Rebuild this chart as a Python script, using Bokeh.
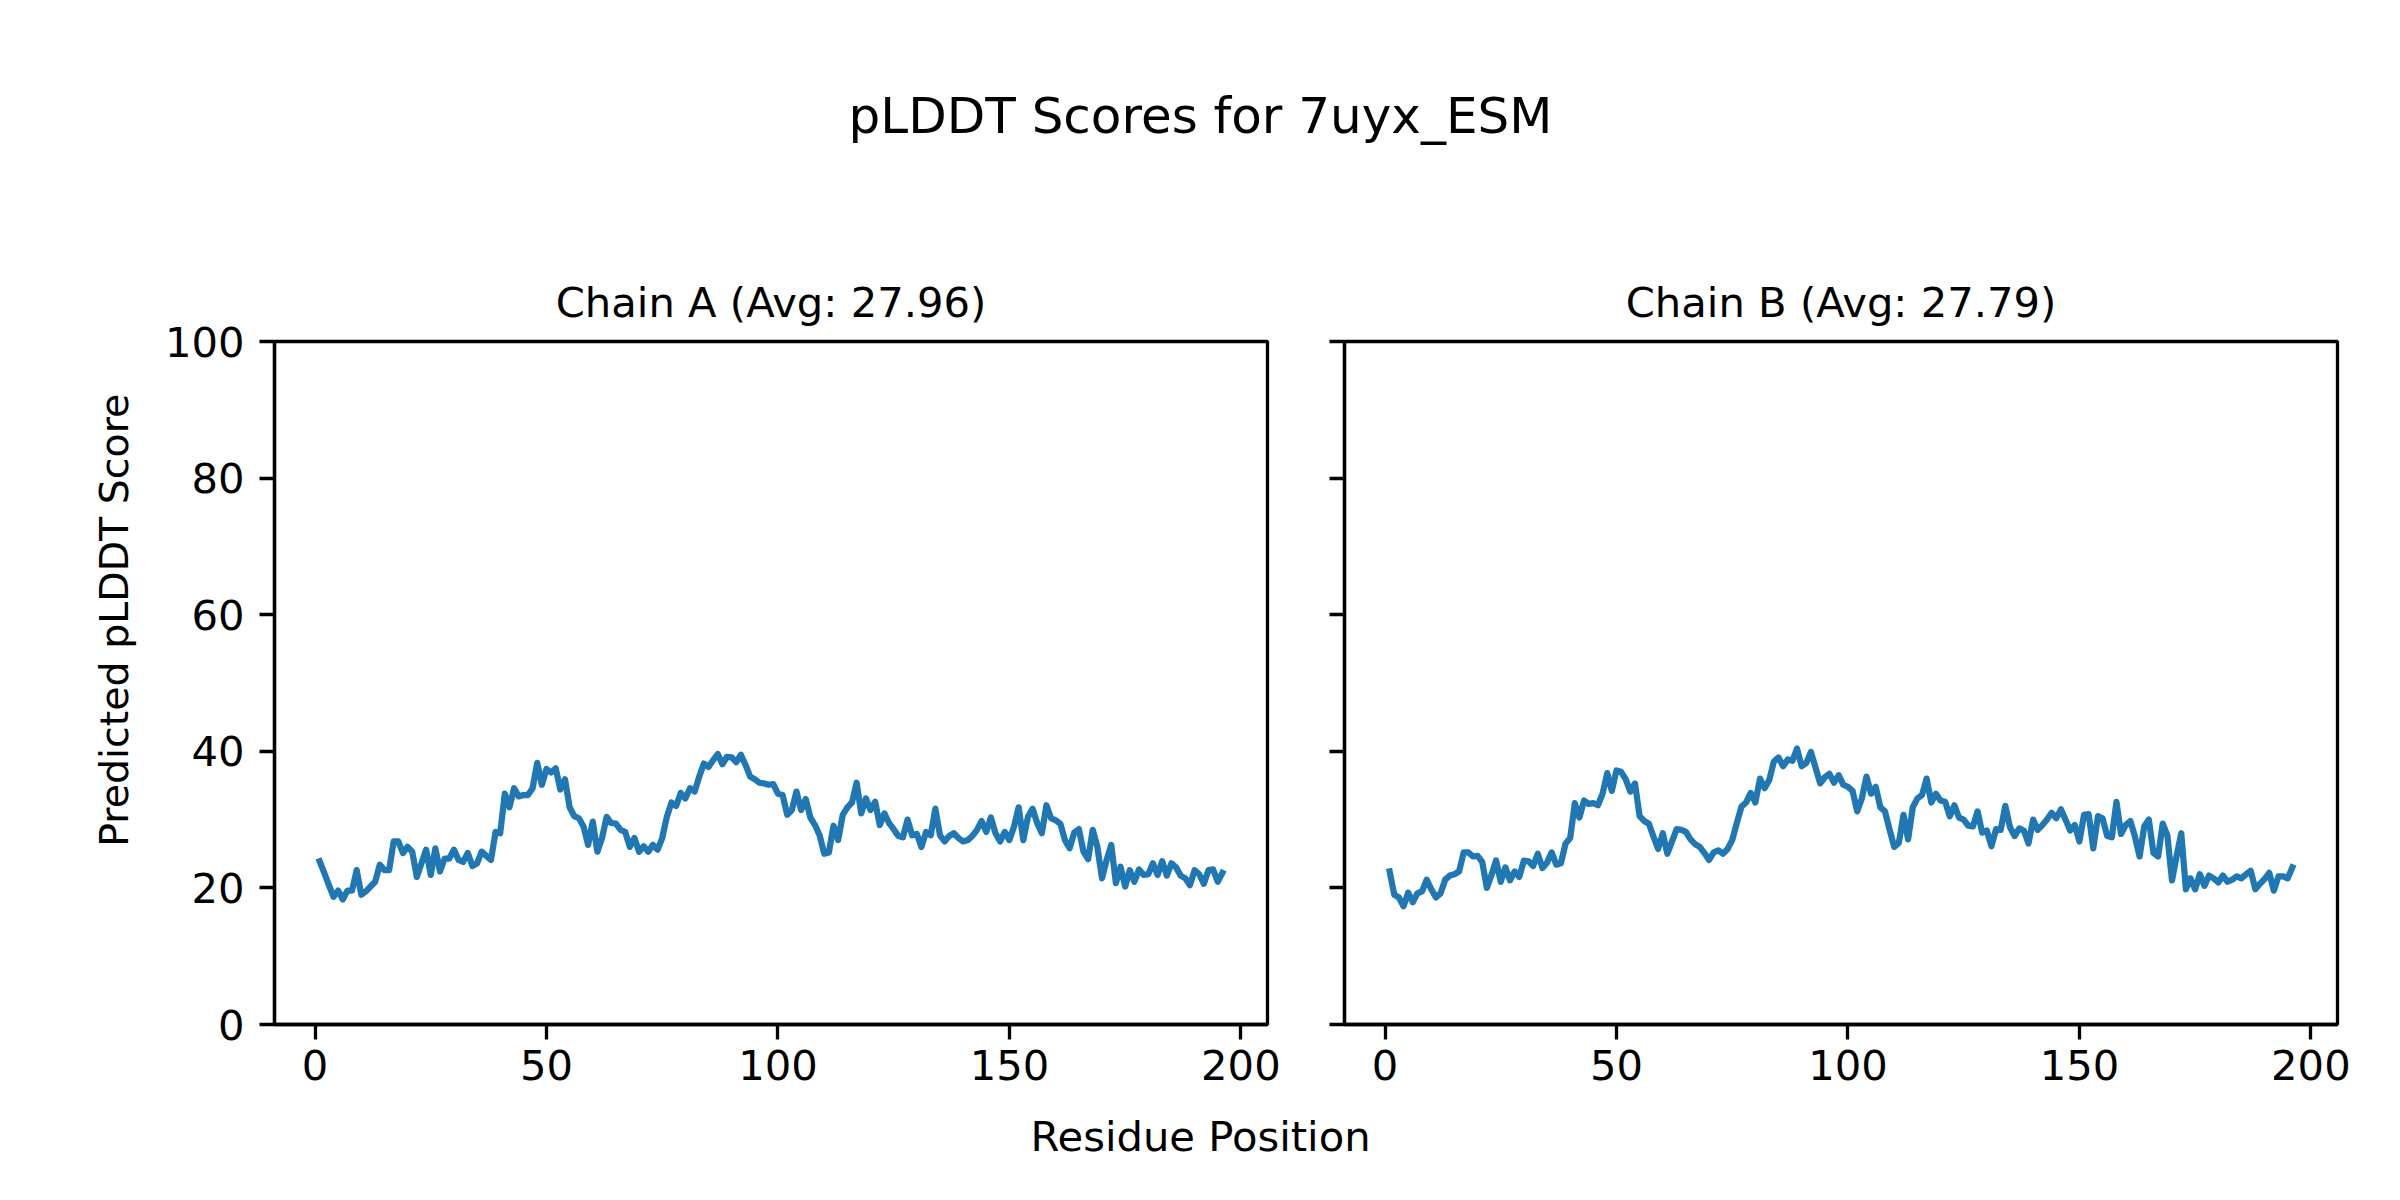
import math
from bokeh.plotting import figure
from bokeh.layouts import column, row
from bokeh.models import Range1d, FixedTicker, Label, Title, ColumnDataSource
from bokeh.embed import file_html
from bokeh.resources import INLINE

# ---------------- data ----------------
suptitle_text = "pLDDT Scores for 7uyx_ESM"
panel_titles = ["Chain A (Avg: 27.96)", "Chain B (Avg: 27.79)"]
x_label_text = "Residue Position"
y_label_text = "Predicted pLDDT Score"
x_ticks = [0, 50, 100, 150, 200]
y_ticks = [0, 20, 40, 60, 80, 100]

chain_a_scores = [
    23.9, 22.2, 20.4, 18.7, 19.6, 18.3, 19.6, 19.6, 22.6, 19.0,
    19.5, 20.2, 20.9, 23.4, 22.6, 22.6, 26.8, 26.8, 25.1, 26.0,
    25.3, 21.6, 23.6, 25.6, 21.9, 25.8, 22.4, 24.3, 24.3, 25.6,
    24.1, 23.8, 25.1, 23.2, 23.6, 25.3, 24.7, 24.1, 28.2, 28.0,
    33.8, 31.8, 34.6, 33.4, 33.6, 33.6, 34.6, 38.3, 35.1, 37.4,
    36.9, 37.5, 34.4, 35.9, 31.8, 30.5, 30.2, 29.0, 26.3, 29.7,
    25.3, 27.3, 30.4, 29.5, 29.4, 28.5, 28.2, 26.0, 27.3, 25.3,
    26.1, 25.3, 26.3, 25.6, 27.3, 30.4, 32.5, 32.0, 33.9, 33.1,
    34.6, 34.1, 36.3, 38.2, 37.7, 38.7, 39.6, 38.1, 39.2, 39.1,
    38.4, 39.5, 38.0, 36.3, 35.9, 35.4, 35.3, 35.1, 35.2, 33.8,
    33.6, 30.7, 31.4, 34.1, 31.4, 33.0, 30.3, 29.2, 27.7, 25.0,
    25.2, 29.1, 27.0, 30.7, 31.8, 32.5, 35.4, 30.9, 33.1, 31.4,
    32.6, 29.2, 30.9, 29.5, 28.6, 27.6, 27.4, 30.0, 27.7, 27.9,
    26.0, 28.2, 27.7, 31.6, 27.7, 26.8, 27.6, 28.0, 27.3, 26.8,
    27.0, 27.6, 28.5, 29.8, 28.2, 30.3, 28.0, 26.8, 28.2, 27.0,
    29.0, 31.8, 27.0, 30.4, 31.6, 29.5, 28.0, 32.1, 30.2, 29.9,
    29.4, 27.0, 25.8, 28.1, 28.6, 25.3, 24.2, 28.5, 26.0, 21.4,
    24.1, 26.3, 20.7, 23.1, 20.2, 22.6, 20.9, 22.7, 21.9, 22.0,
    23.6, 21.9, 23.9, 21.8, 23.6, 23.0, 21.8, 21.4, 20.4, 22.6,
    22.0, 20.6, 22.6, 22.7, 20.9, 22.2,
]

chain_b_scores = [
    22.4, 19.0, 18.6, 17.3, 19.3, 17.9, 19.2, 19.5, 21.2, 19.8,
    18.6, 19.2, 21.2, 21.8, 22.0, 22.4, 25.2, 25.2, 24.6, 24.7,
    23.8, 20.0, 21.9, 24.0, 20.9, 23.0, 21.1, 22.4, 21.6, 24.0,
    23.9, 23.2, 25.0, 22.9, 23.7, 25.2, 23.4, 23.6, 26.5, 27.3,
    32.4, 30.3, 32.8, 32.3, 32.4, 32.1, 33.8, 36.8, 34.2, 37.2,
    37.0, 35.9, 34.1, 35.3, 30.5, 29.8, 29.4, 27.5, 25.7, 28.0,
    25.0, 26.8, 28.6, 28.5, 28.2, 27.1, 26.4, 26.0, 25.1, 24.1,
    25.2, 25.5, 25.0, 25.7, 27.0, 29.5, 31.9, 32.5, 33.9, 32.5,
    36.0, 34.6, 35.8, 38.5, 39.1, 37.8, 38.8, 38.6, 40.4, 37.8,
    38.3, 39.9, 37.6, 35.3, 36.2, 36.7, 35.4, 36.5, 35.1, 34.8,
    34.2, 31.2, 33.1, 36.3, 33.8, 34.8, 31.8, 31.2, 28.5, 26.0,
    26.6, 30.7, 27.1, 31.8, 33.1, 33.6, 36.0, 32.5, 33.8, 32.8,
    32.6, 30.5, 32.1, 30.3, 30.0, 29.1, 29.0, 31.2, 28.1, 28.4,
    26.1, 28.6, 28.5, 32.0, 28.9, 27.6, 28.7, 28.4, 26.5, 30.0,
    28.5, 29.2, 30.0, 31.0, 30.2, 31.5, 30.0, 28.4, 29.2, 26.8,
    30.7, 30.8, 25.8, 30.5, 30.2, 27.6, 27.4, 32.6, 27.9, 29.2,
    29.8, 27.5, 24.6, 29.0, 30.0, 25.1, 24.6, 29.4, 27.7, 21.1,
    24.7, 28.0, 19.8, 21.4, 19.8, 22.0, 20.3, 21.8, 21.4, 20.8,
    21.8, 20.9, 21.2, 21.7, 21.4, 22.0, 22.5, 19.8, 20.6, 21.3,
    22.2, 19.6, 21.7, 21.7, 21.4, 23.0,
]

residues_a = list(range(1, len(chain_a_scores) + 1))
residues_b = list(range(1, len(chain_b_scores) + 1))

# ---------------- style ----------------
FONT = "DejaVu Sans"
LABEL_SIZE = "41.7px"
YLABEL_SIZE = "39.5px"
SUPTITLE_SIZE = "50px"
LINE_COLOR = "#1f77b4"
SPINE_W = 3.3

TOTAL_W = 2384
CENTER_X = 1200
TOP_H = 238
BOTTOM_H = 84
FRAME_W = 993
FRAME_H = 683
BORDER_TOP = 103
BORDER_BOTTOM = 84
PANEL_H = BORDER_TOP + FRAME_H + BORDER_BOTTOM
LEFT_W = 140
YLABEL_CENTER_Y = 593


def make_panel(residues, scores, title, border_left, border_right, show_ylabels):
    pad = 0.05 * (max(residues) - min(residues))
    p = figure(
        frame_width=FRAME_W, frame_height=FRAME_H,
        x_range=Range1d(min(residues) - pad, max(residues) + pad),
        y_range=Range1d(y_ticks[0], y_ticks[-1]),
        min_border_left=border_left, min_border_right=border_right,
        min_border_top=BORDER_TOP, min_border_bottom=BORDER_BOTTOM,
        toolbar_location=None, output_backend="svg",
        background_fill_color="white", border_fill_color="white",
    )
    p.add_layout(Title(text=title, align="center", text_font=FONT,
                       text_font_size=LABEL_SIZE, text_font_style="normal",
                       text_color="black", standoff=29), "above")
    p.xgrid.visible = False
    p.ygrid.visible = False
    p.outline_line_color = "black"
    p.outline_line_width = SPINE_W
    p.outline_line_alpha = 1.0

    p.xaxis.ticker = FixedTicker(ticks=x_ticks)
    p.yaxis.ticker = FixedTicker(ticks=y_ticks)
    for ax in (p.xaxis[0], p.yaxis[0]):
        ax.axis_line_width = SPINE_W
        ax.axis_line_color = "black"
        ax.major_tick_in = 0
        ax.major_tick_out = 15
        ax.major_tick_line_width = SPINE_W
        ax.major_tick_line_color = "black"
        ax.minor_tick_line_color = None
        ax.major_label_text_font = FONT
        ax.major_label_text_font_size = LABEL_SIZE
        ax.major_label_text_color = "black"
    p.xaxis.major_label_standoff = 10
    p.yaxis.major_label_standoff = 15

    if not show_ylabels:
        p.yaxis.major_label_overrides = {t: "" for t in y_ticks}

    src = ColumnDataSource(dict(residue=residues, score=scores))
    p.line(x="residue", y="score", source=src, line_color=LINE_COLOR,
           line_width=6.25, line_join="round", line_cap="square")
    return p


def make_strip(width, height):
    s = figure(width=width, height=height,
               x_range=Range1d(0, width), y_range=Range1d(0, height),
               x_axis_location=None, y_axis_location=None,
               min_border=0, toolbar_location=None, output_backend="svg",
               background_fill_color="white", border_fill_color="white")
    s.xgrid.visible = False
    s.ygrid.visible = False
    s.outline_line_color = None
    return s


top = make_strip(TOTAL_W, TOP_H)
top.add_layout(Label(x=CENTER_X, y=123, text=suptitle_text, text_align="center",
                     text_baseline="alphabetic", text_font=FONT,
                     text_font_size=SUPTITLE_SIZE, text_color="black"))

# shared y label at the left of the figure
left = make_strip(LEFT_W, PANEL_H)
left.add_layout(Label(x=113, y=PANEL_H - (YLABEL_CENTER_Y - TOP_H), text=y_label_text,
                      text_align="center", text_baseline="middle", angle=math.pi / 2,
                      text_font=FONT, text_font_size=YLABEL_SIZE, text_color="black"))

panel_a = make_panel(residues_a, chain_a_scores, panel_titles[0], 274 - LEFT_W, 41, True)
panel_b = make_panel(residues_b, chain_b_scores, panel_titles[1], 36, 47, False)

bottom = make_strip(TOTAL_W, BOTTOM_H)
bottom.add_layout(Label(x=CENTER_X, y=56, text=x_label_text, text_align="center",
                        text_baseline="alphabetic", text_font=FONT,
                        text_font_size=LABEL_SIZE, text_color="black"))

layout = column(top, row(left, panel_a, panel_b, spacing=0), bottom, spacing=0)

open("out.html", "w").write(file_html(layout, INLINE, title="pLDDT Scores for 7uyx_ESM"))
